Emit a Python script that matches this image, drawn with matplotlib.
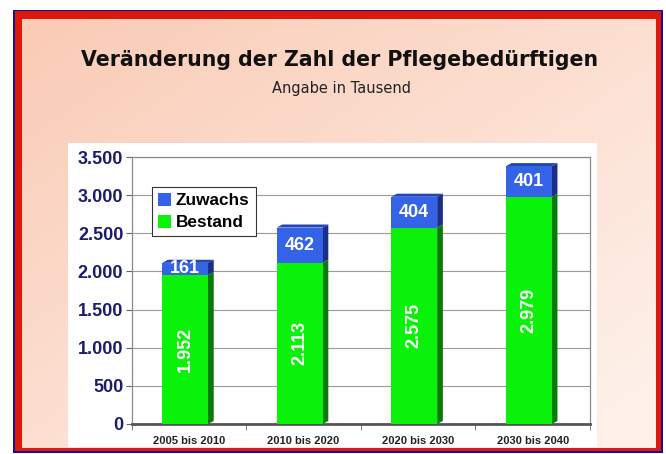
import numpy as np
import matplotlib.pyplot as plt
from matplotlib.patches import Rectangle

categories = ["2005 bis 2010", "2010 bis 2020", "2020 bis 2030", "2030 bis 2040"]
bestand = [1952, 2113, 2575, 2979]
zuwachs = [161, 462, 404, 401]
bestand_labels = ["1.952", "2.113", "2.575", "2.979"]
zuwachs_labels = ["161", "462", "404", "401"]
yticks = [0, 500, 1000, 1500, 2000, 2500, 3000, 3500]
ytick_labels = ["0", "500", "1.000", "1.500", "2.000", "2.500", "3.000", "3.500"]

W, H = 666, 454
fig = plt.figure(figsize=(W / 100, H / 100), dpi=100)
fig.patch.set_facecolor("white")

def px(x0, y0, x1, y1):
    # pixel box (top-left origin) -> figure fraction rect
    return [x0 / W, 1 - y1 / H, (x1 - x0) / W, (y1 - y0) / H]

# frame: thin blue line, red border
fig.add_artist(Rectangle((13 / W, 1 - 453 / H), 650 / W, 443 / H, transform=fig.transFigure,
                         facecolor="#1010a0", edgecolor="none", zorder=0))
fig.add_artist(Rectangle((15 / W, 1 - 451 / H), 646 / W, 440 / H, transform=fig.transFigure,
                         facecolor="#dd1a0a", edgecolor="none", zorder=0))

# peach gradient background
bg = fig.add_axes(px(22, 19, 656, 448), zorder=1)
gx, gy = np.meshgrid(np.linspace(0, 1, 200), np.linspace(0, 1, 150))
t = np.clip(0.55 * gx + 0.55 * gy, 0, 1)
c0 = np.array([250, 203, 182]) / 255
c1 = np.array([254, 240, 232]) / 255
img = c0[None, None, :] * (1 - t[..., None]) + c1[None, None, :] * t[..., None]
bg.imshow(img, aspect="auto", extent=[0, 1, 0, 1], origin="upper")
bg.axis("off")

# white panel
fig.add_artist(Rectangle((68 / W, 1 - 447 / H), 529 / W, 304 / H, transform=fig.transFigure,
                         facecolor="white", edgecolor="none", zorder=2))

fig.text(0.51, 1 - 60 / H, "Veränderung der Zahl der Pflegebedürftigen", ha="center", va="center",
         fontsize=14.8, fontweight="bold", color="#111111", family="DejaVu Sans", zorder=5)
fig.text(0.513, 1 - 88 / H, "Angabe in Tausend", ha="center", va="center",
         fontsize=10.5, color="#222222", family="DejaVu Sans", zorder=5)

ax = fig.add_axes(px(131.7, 157, 590, 424), zorder=3)
ax.set_facecolor("white")

x = np.arange(len(categories)) + 0.5 - 0.034
w = 0.4
dx, dy = 0.05, 40

green, green_side = "#0af20a", "#0a7a0a"
blue, blue_side, blue_top = "#3563e8", "#1b2f88", "#2445b5"

ax.bar(x, bestand, width=w, color=green, zorder=3, label="Bestand")
ax.bar(x, zuwachs, width=w, bottom=bestand, color=blue, zorder=3, label="Zuwachs")

for xi, b, z in zip(x, bestand, zuwachs):
    xr = xi + w / 2
    xl = xi - w / 2
    ax.fill([xr, xr + dx, xr + dx, xr], [0, dy, b + dy, b], color=green_side, zorder=2, lw=0)
    ax.fill([xr, xr + dx, xr + dx, xr], [b, b + dy, b + z + dy, b + z], color=blue_side, zorder=2, lw=0)
    ax.fill([xl, xl + dx, xr + dx, xr], [b + z, b + z + dy, b + z + dy, b + z], color=blue_top, zorder=2, lw=0)

for xi, b, z, bl, zl in zip(x, bestand, zuwachs, bestand_labels, zuwachs_labels):
    ax.text(xi, b + z / 2, zl, ha="center", va="center", color="white", fontsize=13,
            fontweight="bold", family="Liberation Sans", zorder=4)
    ax.text(xi, b / 2, bl, ha="center", va="center", rotation=90, color="white", fontsize=13,
            fontweight="bold", family="Liberation Sans", zorder=4)

ax.set_xlim(0, 4)
ax.set_ylim(0, 3500)
ax.set_yticks(yticks)
ax.set_yticklabels(ytick_labels, fontsize=13, fontweight="bold", color="#1c1c6e", family="Liberation Sans")
ax.set_xticks(np.arange(len(categories)) + 0.5)
ax.set_xticklabels(categories, fontsize=8, fontweight="bold", color="#222222", family="Liberation Sans")
ax.set_xticks(np.arange(len(categories) + 1), minor=True)
ax.tick_params(axis="x", which="major", length=0, pad=9)
ax.tick_params(axis="x", which="minor", length=4, color="#666666")
ax.tick_params(axis="y", length=4, color="#666666", pad=2)
ax.grid(axis="y", color="#9a9a9a", lw=0.8, zorder=0)
ax.set_axisbelow(True)
for s in ["top", "right", "left"]:
    ax.spines[s].set_color("#8a8a8a")
    ax.spines[s].set_linewidth(0.9)
ax.spines["bottom"].set_color("#555555")
ax.spines["bottom"].set_linewidth(2)

handles, labels = ax.get_legend_handles_labels()
leg = ax.legend(handles[::-1], labels[::-1], loc="upper left", bbox_to_anchor=(0.044, 0.888),
                prop={"family": "Liberation Sans", "weight": "bold", "size": 12.4},
                frameon=True, fancybox=False, edgecolor="#333333", framealpha=1,
                handlelength=0.75, handleheight=0.75, handletextpad=0.3, borderpad=0.35,
                labelspacing=0.4, borderaxespad=0)
leg.get_frame().set_linewidth(0.8)

fig.savefig("out.png", dpi=100)
